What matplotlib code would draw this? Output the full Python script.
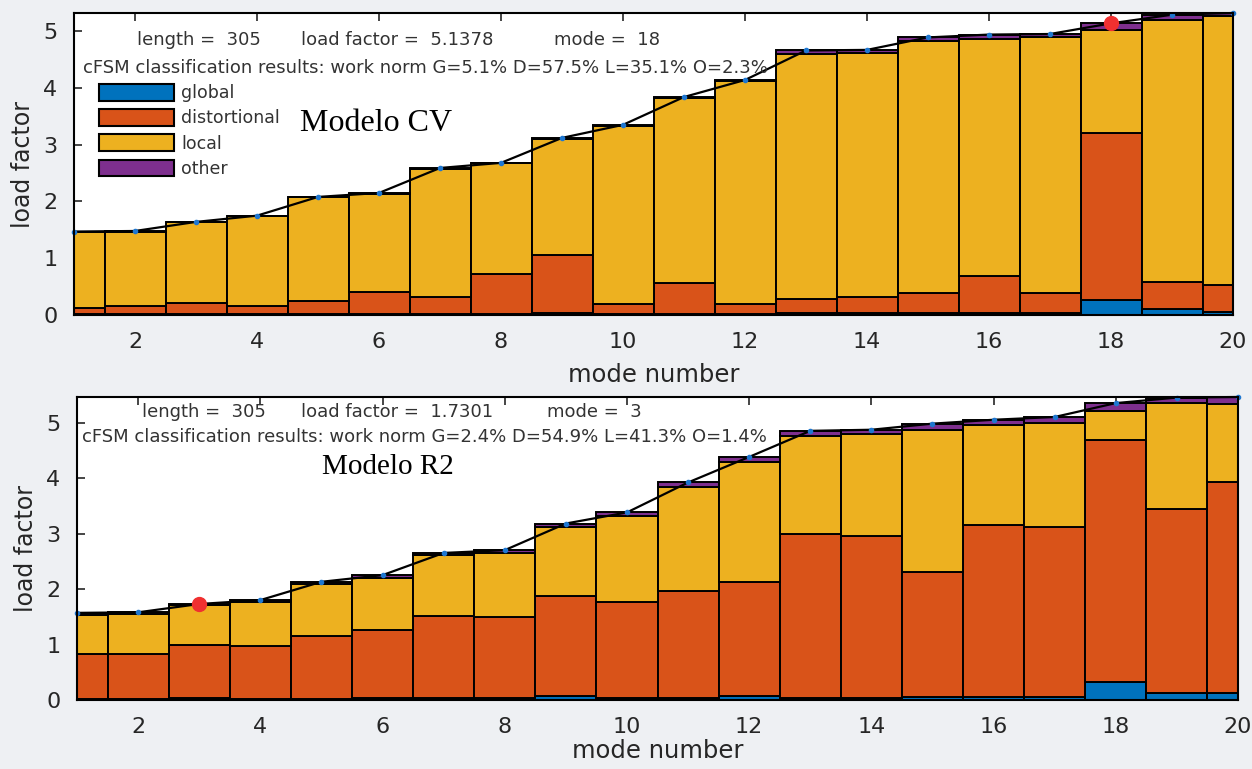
import numpy as np
import matplotlib.pyplot as plt
from matplotlib.patches import Patch

# mode numbers
modes = np.arange(1, 21)

# Modelo CV (top) - load factor and cFSM parts (in load factor units)
lf_cv = [1.47, 1.48, 1.64, 1.75, 2.08, 2.15, 2.59, 2.68, 3.12, 3.35,
         3.84, 4.14, 4.66, 4.67, 4.89, 4.94, 4.95, 5.1378, 5.29, 5.32]
glob_cv = [0.01, 0.01, 0.01, 0.01, 0.01, 0.02, 0.01, 0.01, 0.04, 0.01,
           0.01, 0.01, 0.04, 0.04, 0.04, 0.04, 0.03, 0.26, 0.10, 0.06]
dist_cv = [0.11, 0.14, 0.20, 0.14, 0.24, 0.38, 0.31, 0.72, 1.02, 0.18,
           0.56, 0.18, 0.25, 0.27, 0.35, 0.65, 0.36, 2.95, 0.48, 0.47]
loc_cv = [1.34, 1.32, 1.42, 1.59, 1.82, 1.74, 2.26, 1.94, 2.04, 3.14,
          3.25, 3.93, 4.31, 4.31, 4.43, 4.17, 4.50, 1.81, 4.61, 4.73]
oth_cv = [0.01, 0.01, 0.01, 0.01, 0.01, 0.01, 0.01, 0.01, 0.02, 0.02,
          0.02, 0.02, 0.06, 0.05, 0.07, 0.08, 0.06, 0.12, 0.10, 0.06]

# Modelo R2 (bottom)
lf_r2 = [1.57, 1.58, 1.7301, 1.80, 2.13, 2.25, 2.65, 2.70, 3.18, 3.38,
         3.92, 4.38, 4.85, 4.87, 4.98, 5.05, 5.10, 5.35, 5.45, 5.46]
glob_r2 = [0.01, 0.01, 0.04, 0.01, 0.01, 0.03, 0.03, 0.03, 0.08, 0.03,
           0.03, 0.07, 0.03, 0.03, 0.06, 0.06, 0.06, 0.33, 0.13, 0.13]
dist_r2 = [0.82, 0.82, 0.95, 0.96, 1.14, 1.24, 1.49, 1.47, 1.80, 1.74,
           1.94, 2.05, 2.97, 2.92, 2.24, 3.09, 3.06, 4.35, 3.32, 3.79]
loc_r2 = [0.71, 0.72, 0.72, 0.80, 0.94, 0.93, 1.09, 1.14, 1.23, 1.55,
          1.87, 2.16, 1.75, 1.84, 2.56, 1.80, 1.88, 0.52, 1.90, 1.42]
oth_r2 = [0.03, 0.03, 0.02, 0.03, 0.04, 0.05, 0.04, 0.06, 0.07, 0.06,
          0.08, 0.10, 0.10, 0.08, 0.12, 0.10, 0.10, 0.15, 0.10, 0.12]

part_names = ['global', 'distortional', 'local', 'other']
part_colors = ['#0072BD', '#D95319', '#EDB120', '#7E2F8E']

W, H = 1252, 769
fig = plt.figure(figsize=(W / 100, H / 100), dpi=100, facecolor='#eef0f3')

# axes boxes in pixels: left, top, right, bottom
boxes = [(74, 13, 1233, 315), (77, 397, 1238, 700)]

panels = [
    dict(parts=[glob_cv, dist_cv, loc_cv, oth_cv], lf=lf_cv, sel=18,
         head=['length =  305', 'load factor =  5.1378', 'mode =  18'],
         cfsm='cFSM classification results: work norm G=5.1% D=57.5% L=35.1% O=2.3%',
         head_y=[0.91, 0.818], head_x=[0.108, 0.279, 0.46, 0.303],
         name='Modelo CV', name_xy=(0.195, 0.635), name_size=23, xpad=8),
    dict(parts=[glob_r2, dist_r2, loc_r2, oth_r2], lf=lf_r2, sel=3,
         head=['length =  305', 'load factor =  1.7301', 'mode =  3'],
         cfsm='cFSM classification results: work norm G=2.4% D=54.9% L=41.3% O=1.4%',
         head_y=[0.95, 0.868], head_x=[0.109, 0.276, 0.446, 0.299],
         name='Modelo R2', name_xy=(0.211, 0.768), name_size=21, xpad=2),
]

for i, p in enumerate(panels):
    l, t, r, b = boxes[i]
    ax = fig.add_axes([l / W, 1 - b / H, (r - l) / W, (b - t) / H])
    ax.set_facecolor('white')

    bottom = np.zeros(len(modes))
    for vals, c in zip(p['parts'], part_colors):
        ax.bar(modes, vals, width=1.0, bottom=bottom, color=c,
               edgecolor='black', linewidth=1.4, zorder=2)
        bottom = bottom + np.array(vals)

    ax.plot(modes, p['lf'], color='black', lw=1.6, marker='.',
            markersize=6, markerfacecolor='#1f77d0', markeredgecolor='#1f77d0',
            zorder=3, clip_on=False)
    k = p['sel'] - 1
    ax.plot(modes[k], p['lf'][k], 'o', color='#f03030', markersize=10,
            zorder=4, clip_on=False)

    ax.set_xlim(1, 20)
    ax.set_ylim(0, max(p['lf']))
    ax.set_xticks(range(2, 21, 2))
    ax.set_yticks(range(0, 6))
    ax.tick_params(direction='in', top=True, right=True, length=6,
                   labelsize=16, colors='#262626', width=1.2, pad=12)
    for s in ax.spines.values():
        s.set_linewidth(1.5)
        s.set_color('black')
        s.set_zorder(5)
    ax.set_xlabel('mode number', fontsize=17.5, color='#262626',
                  labelpad=p['xpad'])
    ax.set_ylabel('load factor', fontsize=17, color='#262626', labelpad=6)

    # header texts
    for txt, x in zip(p['head'], p['head_x'][:3]):
        ax.text(x, p['head_y'][0], txt, transform=ax.transAxes,
                ha='center', va='center', fontsize=13, color='#333333')
    ax.text(p['head_x'][3], p['head_y'][1], p['cfsm'], transform=ax.transAxes,
            ha='center', va='center', fontsize=13, color='#333333')

    ax.text(p['name_xy'][0], p['name_xy'][1], p['name'], transform=ax.transAxes,
            ha='left', va='center', fontsize=p['name_size'],
            family='Liberation Serif', color='black', zorder=6)

    if i == 0:
        handles = [Patch(facecolor=c, edgecolor='black', linewidth=1.5)
                   for c in part_colors]
        ax.legend(handles, part_names, loc='upper left',
                  bbox_to_anchor=(0.022, 0.765), borderaxespad=0, borderpad=0,
                  frameon=False, fontsize=12.5, handlelength=4.3,
                  handleheight=1.1, labelspacing=0.4, handletextpad=0.4,
                  labelcolor='#333333')

plt.savefig('out.png', dpi=100, facecolor=fig.get_facecolor())
